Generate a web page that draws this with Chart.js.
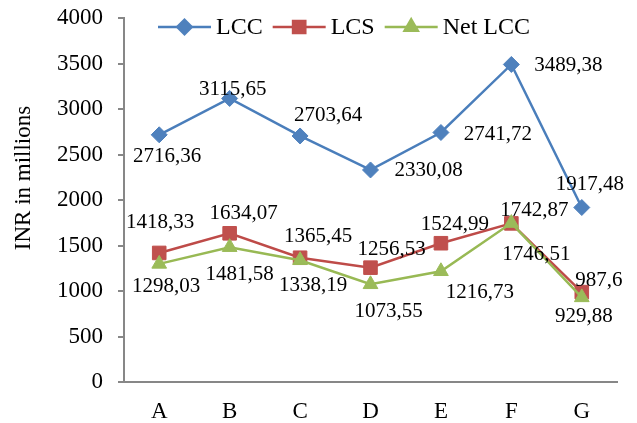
<!DOCTYPE html>
<html>
<head>
<meta charset="utf-8">
<script src="https://cdn.jsdelivr.net/npm/chart.js@4/dist/chart.umd.min.js"></script>
<style>
  html, body { margin: 0; padding: 0; background: #ffffff; }
  #wrap { width: 637px; height: 423px; }
</style>
</head>
<body>
<div id="wrap"><canvas id="chart" width="637" height="423"></canvas></div>
<script>
// Categories and series values (INR in millions)
const categories = ['A', 'B', 'C', 'D', 'E', 'F', 'G'];
const lccValues = [2716.36, 3115.65, 2703.64, 2330.08, 2741.72, 3489.38, 1917.48];
const lcsValues = [1418.33, 1634.07, 1365.45, 1256.53, 1524.99, 1742.87, 987.6];
const netLccValues = [1298.03, 1481.58, 1338.19, 1073.55, 1216.73, 1746.51, 929.88];
const yTickValues = [0, 500, 1000, 1500, 2000, 2500, 3000, 3500, 4000];

// Where each value label sits relative to its marker, [dx, dy] in px
const lccLabelPos = [[8, 22], [3, -9], [28, -20], [58, 1], [57, 2], [57, 1], [8, -23]];
const lcsLabelPos = [[1, -30], [14, -20], [18, -21], [21, -18], [14, -19], [23, -13], [17, -12]];
const netLabelPos = [[7, 23], [10, 27], [13, 25], [18, 27], [39, 21], [25, 31], [2, 19]];

const SERIF = '"Liberation Serif", "Times New Roman", serif';
const AXIS_GREY = '#878787';

const fmt = v => String(v).replace('.', ',');

const series = [
  { label: 'LCC', data: lccValues, line: '#4A7EBB', fill: '#4F81BD', style: 'rectRot', radius: 8, labelPos: lccLabelPos, order: 2 },
  { label: 'LCS', data: lcsValues, line: '#BE4B48', fill: '#C0504D', style: 'rect', radius: 9.6, labelPos: lcsLabelPos, order: 1 },
  { label: 'Net LCC', data: netLccValues, line: '#98B954', fill: '#9BBB59', style: 'triangle', radius: 8.5, labelPos: netLabelPos, order: 0 }
];

// Value labels next to every marker
const valueLabels = {
  id: 'valueLabels',
  afterDatasetsDraw(chart) {
    const ctx = chart.ctx;
    ctx.save();
    ctx.font = '21px ' + SERIF;
    ctx.fillStyle = '#000000';
    ctx.textAlign = 'center';
    ctx.textBaseline = 'middle';
    series.forEach((s, i) => {
      const meta = chart.getDatasetMeta(i);
      meta.data.forEach((pt, j) => {
        const [dx, dy] = s.labelPos[j];
        ctx.fillText(fmt(s.data[j]), pt.x + dx, pt.y + dy);
      });
    });
    ctx.restore();
  }
};

// Line-and-marker legend along the top of the plot
const lineLegend = {
  id: 'lineLegend',
  afterDraw(chart) {
    const ctx = chart.ctx;
    const y = 27;
    let x = 158;
    ctx.save();
    ctx.font = '24px ' + SERIF;
    ctx.textBaseline = 'middle';
    ctx.textAlign = 'left';
    series.forEach(s => {
      ctx.strokeStyle = s.line;
      ctx.lineWidth = 2.5;
      ctx.beginPath();
      ctx.moveTo(x, y);
      ctx.lineTo(x + 53, y);
      ctx.stroke();
      ctx.fillStyle = s.fill;
      ctx.strokeStyle = s.fill;
      Chart.helpers.drawPoint(ctx, { pointStyle: s.style, radius: s.radius * 0.9, rotation: 0, borderWidth: 1 }, x + 26.5, y);
      ctx.fillStyle = '#000000';
      ctx.fillText(s.label, x + 58, y + 1);
      x += 58 + ctx.measureText(s.label).width + 10;
    });
    ctx.restore();
  }
};

// Vertical axis title
const yTitle = {
  id: 'yTitle',
  afterDraw(chart) {
    const ctx = chart.ctx;
    ctx.save();
    ctx.translate(24, 178);
    ctx.rotate(-Math.PI / 2);
    ctx.font = '23px ' + SERIF;
    ctx.fillStyle = '#000000';
    ctx.textAlign = 'center';
    ctx.textBaseline = 'middle';
    ctx.fillText('INR in millions', 0, 0);
    ctx.restore();
  }
};

new Chart(document.getElementById('chart'), {
  type: 'line',
  data: {
    labels: categories,
    datasets: series.map(s => ({
      label: s.label,
      data: s.data,
      order: s.order,
      borderColor: s.line,
      backgroundColor: s.fill,
      borderWidth: 2.5,
      tension: 0,
      fill: false,
      pointStyle: s.style,
      pointRadius: s.radius,
      pointBackgroundColor: s.fill,
      pointBorderColor: s.fill,
      pointBorderWidth: 1,
      clip: false
    }))
  },
  options: {
    responsive: false,
    devicePixelRatio: 1,
    animation: false,
    layout: { padding: { top: 18, right: 20, left: 0, bottom: 0 } },
    plugins: {
      legend: { display: false },
      tooltip: { enabled: false },
      title: { display: false }
    },
    scales: {
      x: {
        type: 'category',
        offset: true,
        grid: { display: false },
        border: { display: true, color: AXIS_GREY, width: 2 },
        ticks: { color: '#000000', font: { family: SERIF, size: 23 }, padding: 8, maxRotation: 0 },
        afterFit(scale) {
          scale.height = 41;
          scale.paddingLeft = 0;
          scale.paddingRight = 0;
        }
      },
      y: {
        min: 0,
        max: 4000,
        afterBuildTicks(scale) { scale.ticks = yTickValues.map(v => ({ value: v })); },
        grid: { display: true, drawOnChartArea: false, drawTicks: true, tickLength: 6, color: AXIS_GREY, lineWidth: 2 },
        border: { display: true, color: AXIS_GREY, width: 2 },
        ticks: {
          color: '#000000',
          font: { family: SERIF, size: 23 },
          padding: 15,
          callback: v => String(v)
        },
        afterFit(scale) {
          scale.width = 124;
          scale.paddingTop = 0;
          scale.paddingBottom = 0;
        }
      }
    }
  },
  plugins: [valueLabels, lineLegend, yTitle]
});
</script>
</body>
</html>
